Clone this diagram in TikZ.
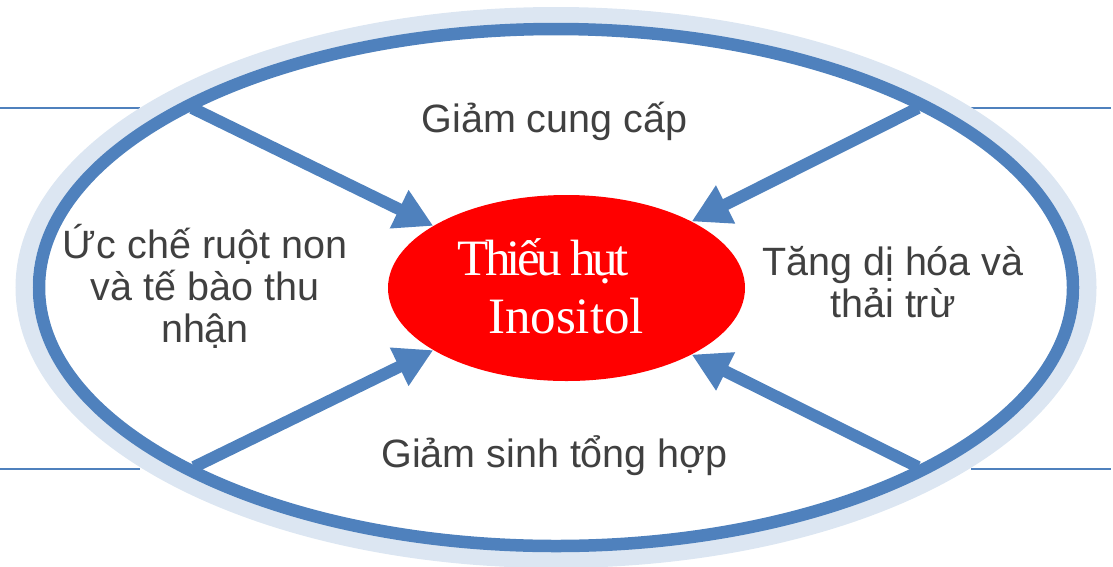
\documentclass[tikz,border=0pt]{standalone}
\usepackage{fontspec}
\setmainfont{Liberation Serif}
\newfontfamily\labelfont{Liberation Sans}
\usetikzlibrary{arrows.meta,shapes.geometric}
\definecolor{ringdark}{HTML}{4F81BD}
\definecolor{ringlight}{HTML}{DCE6F2}
\definecolor{txtgray}{HTML}{404040}
\begin{document}
\begin{tikzpicture}[x=1pt,y=-1pt,
  lbl/.style={font=\labelfont\fontsize{39.5}{42}\selectfont, text=txtgray, align=center, inner sep=0pt, anchor=base},
  arr/.style={draw=ringdark, line width=12pt, -{Triangle[length=38pt,width=40pt]}},
  side/.style={draw=ringdark, line width=2pt},
  outerring/.style={draw=ringlight, line width=17pt},
  innerring/.style={draw=ringdark, line width=12.5pt},
  core/.style={ellipse, fill=red, minimum width=357pt, minimum height=186pt, inner sep=0pt},
  coretext/.style={font=\fontsize{51}{58}\selectfont, text=white, align=center, inner sep=0pt, anchor=base}]
\useasboundingbox (0,0) rectangle (1113,566);
% side lines
\coordinate (l1a) at (0,108);   \coordinate (l1b) at (140,108);
\coordinate (l2a) at (0,469);   \coordinate (l2b) at (140,469);
\coordinate (r1a) at (971,108); \coordinate (r1b) at (1111,108);
\coordinate (r2a) at (971,469); \coordinate (r2b) at (1111,469);
\draw[side] (l1a) -- (l1b);
\draw[side] (l2a) -- (l2b);
\draw[side] (r1a) -- (r1b);
\draw[side] (r2a) -- (r2b);
% rings
\coordinate (c) at (556,287.5);
\draw[outerring] (c) ellipse [x radius=532pt, y radius=272pt];
\draw[innerring] (c) ellipse [x radius=517pt, y radius=258.5pt];
% core
\node[core] (def) at (566.5,288) {};
% arrows
\coordinate (tl) at (192,108);
\coordinate (tr) at (918,108);
\coordinate (bl) at (194,467);
\coordinate (br) at (918,467);
\draw[arr] (tl) -- (def.155);
\draw[arr] (tr) -- (def.28);
\draw[arr] (bl) -- (def.205);
\draw[arr] (br) -- (def.332);
% texts
\node[coretext] (deftxt) at (566,333) {\hspace*{-46pt}{\addfontfeature{LetterSpace=-7.4}Thiếu hụt}\\Inositol};
\node[lbl] (top) at (554.5,132) {Giảm cung cấp};
\node[lbl] (left) at (205,342) {Ức chế ruột non\\và tế bào thu\\nhận};
\node[lbl] (right) at (893,317) {Tăng dị hóa và\\thải trừ};
\node[lbl] (bottom) at (554.5,467) {Giảm sinh tổng hợp};
\end{tikzpicture}
\end{document}
